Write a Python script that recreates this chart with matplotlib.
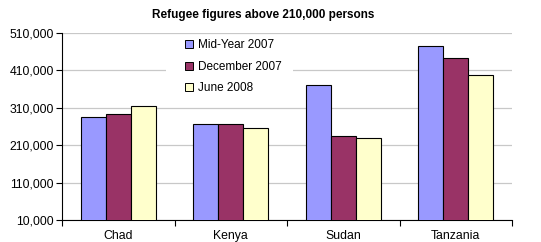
import matplotlib
matplotlib.use("Agg")
import matplotlib.pyplot as plt
from matplotlib.patches import Rectangle
import numpy as np

categories = ["Chad", "Kenya", "Sudan", "Tanzania"]
series_names = ["Mid-Year 2007", "December 2007", "June 2008"]
mid_2007 = [285000, 268000, 372000, 474000]
dec_2007 = [293000, 268000, 235000, 443000]
jun_2008 = [315000, 255000, 229000, 397000]
yticks = [10000, 110000, 210000, 310000, 410000, 510000]

colors = ["#9999FF", "#993366", "#FFFFCC"]

plt.rcParams['font.family'] = ['Liberation Sans', 'DejaVu Sans']

fig = plt.figure(figsize=(5.41, 2.42), dpi=100)
ax = fig.add_axes([62/541, 1-220/242, (512-62)/541, (220-33)/242])

x = np.arange(len(categories))
w = 0.222
for i, (vals, name) in enumerate(zip([mid_2007, dec_2007, jun_2008], series_names)):
    ax.bar(x + (i-1)*w, vals, width=w, color=colors[i], edgecolor="black",
           linewidth=0.8, label=name, zorder=3)

ax.set_ylim(10000, 510000)
ax.set_xlim(-0.5, len(categories)-0.5)
ax.set_yticks(yticks)
ax.set_yticklabels([f"{v:,}" for v in yticks], fontsize=8.8)
ax.set_xticks(x)
ax.set_xticklabels(categories, fontsize=8.8)
ax.tick_params(axis='x', length=0, pad=7)
ax.set_xticks(np.arange(-0.5, len(categories)), minor=True)
ax.tick_params(axis='x', which='minor', length=4, direction='out', color='black', width=0.8)
ax.tick_params(axis='y', length=4, direction='out', width=0.8, pad=2)
ax.yaxis.grid(True, color="#C8C8C8", linewidth=0.9, zorder=0)
ax.set_axisbelow(True)
for s in ['top', 'right']:
    ax.spines[s].set_visible(False)
for s in ['left', 'bottom']:
    ax.spines[s].set_linewidth(0.8)

fig.text(263/541, 1-15/242, "Refugee figures above 210,000 persons", fontsize=8.5,
         fontweight='bold', ha='center', va='center')

# white legend area covering gridlines
ax.add_patch(Rectangle((166/541, 1-100/242), (293-166)/541, (100-37)/242,
                       transform=fig.transFigure, facecolor='white',
                       edgecolor='none', zorder=2, clip_on=False))

leg = ax.legend(loc='upper left', bbox_to_anchor=(183/541, 1-37/242),
                bbox_transform=fig.transFigure, frameon=False, fontsize=8.5,
                handlelength=0.65, handleheight=0.65, handletextpad=0.45,
                labelspacing=0.8, borderpad=0.2, borderaxespad=0)
for h in leg.legend_handles:
    h.set_linewidth(0.7)
leg.set_zorder(5)

fig.savefig("out.png", dpi=100)
